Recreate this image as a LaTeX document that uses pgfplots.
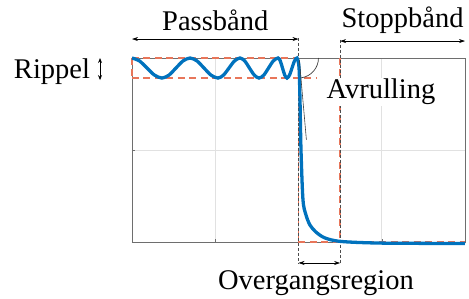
\documentclass[border=0pt]{standalone}
\usepackage{pgfplots}
\pgfplotsset{compat=1.18}
\usepackage{fontspec}
\setmainfont{Liberation Serif}
\usetikzlibrary{arrows.meta}
\definecolor{mblue}{RGB}{0,114,189}
\definecolor{mred}{RGB}{232,118,90}
\definecolor{gridc}{RGB}{225,225,225}
\definecolor{boxc}{RGB}{110,110,110}
\begin{document}
\fontsize{28.5bp}{32bp}\selectfont
\begin{tikzpicture}
\path[use as bounding box] (-132bp,-57bp) rectangle (337bp,242bp);
\begin{axis}[
  at={(0,0)}, anchor=south west,
  scale only axis, width=333bp, height=184bp,
  xmin=0, xmax=4, ymin=0, ymax=1,
  xtick={0,1,2,3,4}, ytick={0,0.5,1},
  xticklabels={}, yticklabels={},
  grid=major, major grid style={gridc, line width=0.6pt},
  axis line style={boxc, line width=0.9pt},
  tick style={boxc, line width=0.5pt}, major tick length=3bp,
  tick pos=left,
  clip=false,
]
% red dashed reference lines
\pgfplotsset{rd/.style={mred, line width=1.6pt, dash pattern=on 7bp off 4.5bp}}
\addplot[rd] coordinates {(0,1) (2,1)};
\addplot[rd] coordinates {(0,0.891) (2.22,0.891)};
\addplot[rd] coordinates {(0,1) (0,0.891)};
\addplot[rd] coordinates {(2,1) (2,0)};
\addplot[rd] coordinates {(2.5,1) (2.5,0)};
\addplot[rd] coordinates {(2,0) (4,0)};
% gray dashed guides
\addplot[black!70, line width=0.6pt, dash pattern=on 3bp off 2bp] coordinates {(2,1.11) (2,-0.12)};
\addplot[black!70, line width=0.6pt, dash pattern=on 3bp off 2bp] coordinates {(2.5,1.10) (2.5,-0.12)};
% response curve
\addplot[mblue, line width=3.3pt, smooth, tension=0.5] coordinates {
 (0,1) (0.09,0.984) (0.18,0.9455) (0.27,0.907) (0.36,0.891)
 (0.444,0.907) (0.528,0.9455) (0.613,0.984) (0.697,1)
 (0.781,0.984) (0.865,0.9455) (0.949,0.907) (1.033,0.891)
 (1.099,0.907) (1.165,0.9455) (1.231,0.984) (1.297,1)
 (1.354,0.984) (1.411,0.9455) (1.469,0.907) (1.526,0.891)
 (1.583,0.907) (1.640,0.9455) (1.697,0.984) (1.754,1)
 (1.781,0.984) (1.808,0.9455) (1.835,0.907) (1.862,0.891)
 (1.892,0.907) (1.922,0.9455) (1.952,0.984) (1.982,1)
 (2.006,0.95) (2.018,0.772) (2.03,0.5) (2.054,0.228) (2.09,0.147)
 (2.138,0.092) (2.21,0.054) (2.318,0.022) (2.51,0.003) (3,-0.006) (4,-0.008)
};
% roll-off slope line and arc
\addplot[black!75, line width=0.6pt] coordinates {(2.01,0.99) (2.095,0.555)};
\draw[black!75, line width=0.7pt] (axis cs:2.24,1) arc[start angle=0, end angle=-82, x radius=20bp, y radius=20bp];
% arrows
\draw[{Stealth[length=6bp,width=4bp]}-{Stealth[length=6bp,width=4bp]}, line width=0.6pt] (axis cs:0,1.103) -- (axis cs:2,1.103);
\draw[{Stealth[length=6bp,width=4bp]}-{Stealth[length=6bp,width=4bp]}, line width=0.6pt] (axis cs:2.5,1.092) -- (axis cs:4,1.092);
\draw[{Stealth[length=6bp,width=4bp]}-{Stealth[length=6bp,width=4bp]}, line width=0.6pt] (axis cs:2,-0.114) -- (axis cs:2.5,-0.114);
\draw[{Stealth[length=5bp,width=4bp]}-{Stealth[length=5bp,width=4bp]}, line width=1pt] (axis cs:-0.384,1.0) -- (axis cs:-0.384,0.88);
% texts
\node at (axis cs:1.0,1.207) {Passbånd};
\node at (axis cs:3.25,1.207) {Stoppbånd};
\node[fill=white, inner sep=1bp] at (axis cs:2.99,0.815) {Avrulling};
\node at (axis cs:2.21,-0.223) {Overgangsregion};
\node[anchor=base] at (axis cs:-0.961,0.886) {Rippel};
\end{axis}
\end{tikzpicture}
\end{document}
